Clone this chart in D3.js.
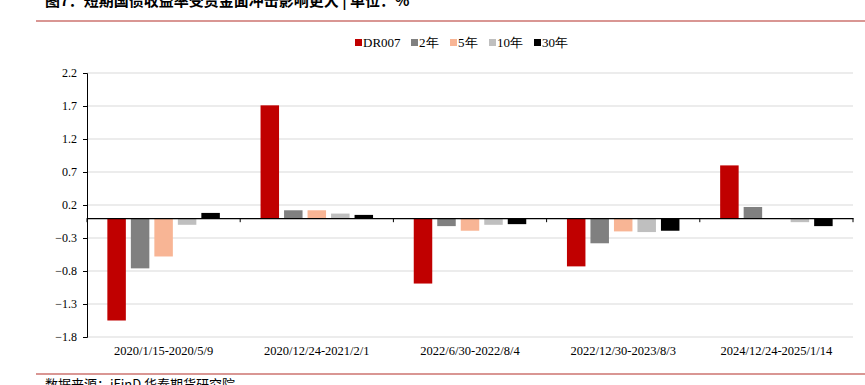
<!DOCTYPE html>
<html><head><meta charset="utf-8">
<script src="https://cdn.jsdelivr.net/npm/d3@7"></script>
<style>body{margin:0;background:#fff}svg{display:block}</style>
</head><body><svg id="c" width="865" height="385"></svg>
<script>
const categories = ["2020/1/15-2020/5/9","2020/12/24-2021/2/1","2022/6/30-2022/8/4","2022/12/30-2023/8/3","2024/12/24-2025/1/14"];
const seriesNames = ["DR007","2年","5年","10年","30年"];
const seriesColors = ["#C00000","#808080","#F8B595","#BFBFBF","#000000"];
const dr007 = [-1.55, 1.71, -0.99, -0.73, 0.80];
const y2 = [-0.76, 0.12, -0.12, -0.38, 0.17];
const y5 = [-0.58, 0.12, -0.19, -0.20, 0.0];
const y10 = [-0.10, 0.07, -0.10, -0.21, -0.06];
const y30 = [0.08, 0.05, -0.09, -0.19, -0.12];
const yTicks = [2.2, 1.7, 1.2, 0.7, 0.2, -0.3, -0.8, -1.3, -1.8];
const seriesValues = [dr007, y2, y5, y10, y30];

const svg = d3.select("#c");
const L = 87, R = 853, T = 73, B = 337;
const serif = "'Liberation Serif','Times New Roman',serif";

const x = d3.scaleBand().domain(categories).range([L, R]).paddingInner(0).paddingOuter(0);
const y = d3.scaleLinear().domain([-1.8, 2.2]).range([B, T]);
const xs = d3.scaleBand().domain(seriesNames).range([0, x.bandwidth()]).paddingInner(0.213).paddingOuter(0.866);

// title (clipped at top)
svg.append("text").attr("x", 45).attr("y", 6).attr("font-family", "'Noto Sans CJK SC',sans-serif")
  .attr("font-weight", "bold").attr("font-size", 15).attr("fill", "#000")
  .text("图7：短期国债收益率受资金面冲击影响更大 | 单位：%");
svg.append("line").attr("x1", 36).attr("x2", 865).attr("y1", 21).attr("y2", 21)
  .attr("stroke", "#C0504D").attr("stroke-width", 1.5).attr("opacity", 0.8);
svg.append("line").attr("x1", 36).attr("x2", 865).attr("y1", 374).attr("y2", 374)
  .attr("stroke", "#C0504D").attr("stroke-width", 1.5).attr("opacity", 0.8);
svg.append("text").attr("x", 45).attr("y", 389).attr("font-family", "'Noto Sans CJK SC',sans-serif")
  .attr("font-size", 13).attr("fill", "#000").text("数据来源：iFinD 华泰期货研究院");

// gridlines
svg.append("g").selectAll("line").data(yTicks).join("line")
  .attr("x1", L).attr("x2", R).attr("y1", d => y(d)).attr("y2", d => y(d))
  .attr("stroke", "#D9D9D9").attr("stroke-width", 1);

// y axis
const yAxis = svg.append("g").attr("transform", `translate(${L},0)`)
  .call(d3.axisLeft(y).tickValues(yTicks).tickFormat(d3.format(".1f")).tickSize(4).tickPadding(6));
yAxis.select(".domain").attr("stroke", "#000");
yAxis.selectAll("text").attr("font-family", serif).attr("font-size", 12).attr("fill", "#000");

// bars
const groups = svg.append("g").selectAll("g").data(categories).join("g")
  .attr("transform", d => `translate(${x(d)},0)`);
groups.selectAll("rect").data((c, i) => seriesNames.map((s, j) => ({s, j, v: seriesValues[j][i]})))
  .join("rect")
  .attr("x", d => xs(d.s)).attr("width", xs.bandwidth())
  .attr("y", d => y(Math.max(0, d.v))).attr("height", d => Math.abs(y(d.v) - y(0)))
  .attr("fill", d => seriesColors[d.j]);

// x axis at zero
const xAxis = svg.append("g").attr("transform", `translate(0,${y(0)})`)
  .call(d3.axisBottom(x).tickSize(0).tickFormat(""));
xAxis.select(".domain").attr("stroke", "#000").attr("stroke-width", 1.2);
svg.append("g").selectAll("line").data(d3.range(categories.length + 1)).join("line")
  .attr("x1", i => L + i * x.step()).attr("x2", i => L + i * x.step())
  .attr("y1", y(0)).attr("y2", y(0) + 4).attr("stroke", "#000");

// category labels at bottom
svg.append("g").selectAll("text").data(categories).join("text")
  .attr("x", d => x(d) + x.bandwidth() / 2).attr("y", 355)
  .attr("text-anchor", "middle").attr("font-family", serif).attr("font-size", 12.5).attr("fill", "#000")
  .text(d => d);

// legend
const legendX = [355, 411, 450, 489, 534];
const lg = svg.append("g").selectAll("g").data(seriesNames).join("g")
  .attr("transform", (d, i) => `translate(${legendX[i]},43)`);
lg.append("rect").attr("x", 0).attr("y", -4).attr("width", 7).attr("height", 7)
  .attr("fill", (d, i) => seriesColors[i]);
lg.append("text").attr("x", 8).attr("y", 4).attr("font-family", serif).attr("font-size", 13).attr("fill", "#000")
  .text(d => d);
</script></body></html>
